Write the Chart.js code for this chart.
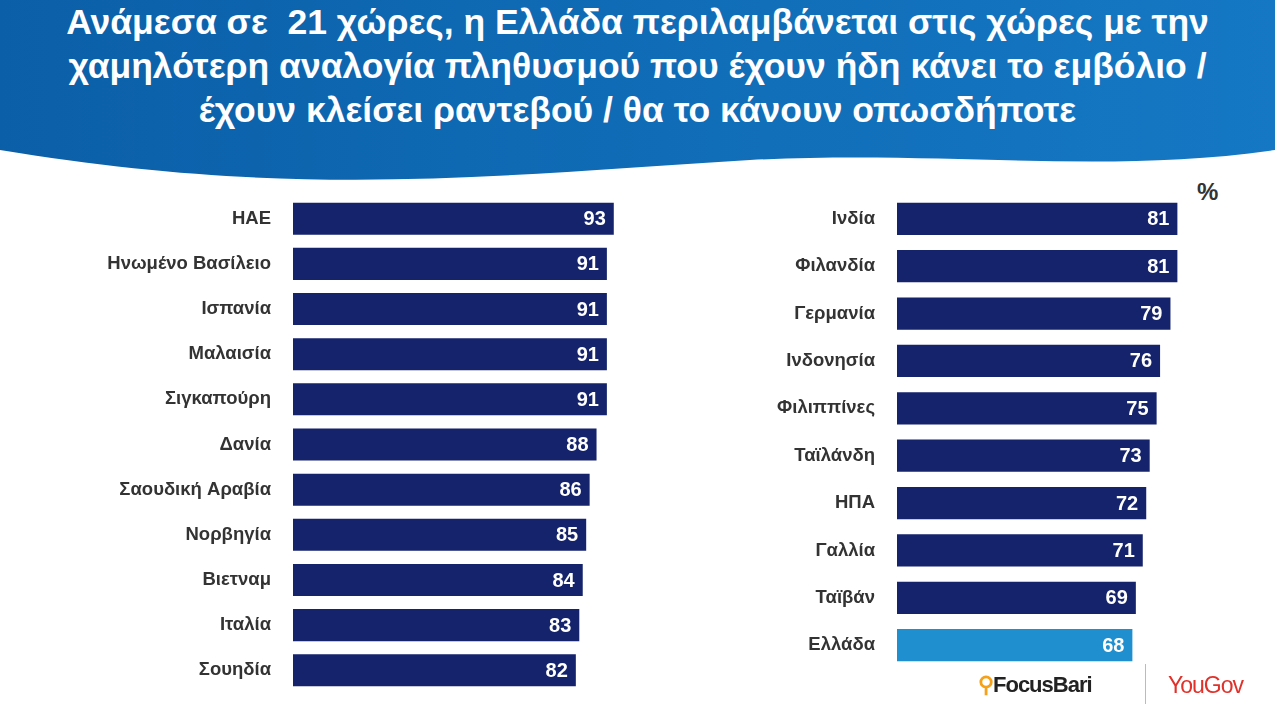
<!DOCTYPE html>
<html>
<head>
<meta charset="utf-8">
<script src="https://cdn.jsdelivr.net/npm/chart.js@4"></script>
<style>
  body { margin: 0; width: 1275px; height: 711px; position: relative; overflow: hidden; background: #fff; font-family: "Liberation Sans", Arial, sans-serif; }
  #head { position: absolute; left: 0; top: 0; width: 1275px; height: 200px; }
  #title { position: absolute; left: 0; top: 0; width: 1275px; text-align: center; color: #fff; font-weight: bold; font-size: 35.5px; line-height: 44px; }
  canvas { position: absolute; }
  #pct { position: absolute; left: 1197px; top: 178px; font-size: 24px; font-weight: bold; color: #333; }
  #focus { position: absolute; left: 978px; top: 672px; font-size: 22px; font-weight: bold; color: #222; letter-spacing: -1px; }
  #focus span { color: #f5a21a; }
  #sep { position: absolute; left: 1145px; top: 664px; width: 1px; height: 40px; background: #bbb; }
  #yougov { position: absolute; left: 1168px; top: 672px; font-size: 23px; color: #e0312a; letter-spacing: -1px; }
</style>
</head>
<body>
<svg id="head" width="1275" height="200">
  <defs>
    <linearGradient id="g" x1="0" y1="0" x2="1" y2="0">
      <stop offset="0" stop-color="#0b5fa8"/>
      <stop offset="1" stop-color="#1578c4"/>
    </linearGradient>
  </defs>
  <path d="M0 0 H1275 V150 C1100 175 950 150 750 160 C500 175 300 200 0 150 Z" fill="url(#g)"/>
</svg>
<div id="title">Ανάμεσα σε&nbsp; 21 χώρες, η Ελλάδα περιλαμβάνεται στις χώρες με την<br>χαμηλότερη αναλογία πληθυσμού που έχουν ήδη κάνει το εμβόλιο /<br>έχουν κλείσει ραντεβού / θα το κάνουν οπωσδήποτε</div>
<div id="pct">%</div>
<canvas id="left" style="left:0;top:171px" width="660" height="547"></canvas>
<canvas id="right" style="left:640px;top:170px" width="635" height="524"></canvas>
<div id="focus"><span>&#9906;</span>FocusBari</div>
<div id="sep"></div>
<div id="yougov">YouGov</div>
<script>
// Αριστερή στήλη
const leftCountries = ['ΗΑΕ', 'Ηνωμένο Βασίλειο', 'Ισπανία', 'Μαλαισία', 'Σιγκαπούρη', 'Δανία', 'Σαουδική Αραβία', 'Νορβηγία', 'Βιετναμ', 'Ιταλία', 'Σουηδία'];
const leftValues = [93, 91, 91, 91, 91, 88, 86, 85, 84, 83, 82];
// Δεξιά στήλη
const rightCountries = ['Ινδία', 'Φιλανδία', 'Γερμανία', 'Ινδονησία', 'Φιλιππίνες', 'Ταϊλάνδη', 'ΗΠΑ', 'Γαλλία', 'Ταϊβάν', 'Ελλάδα'];
const rightValues = [81, 81, 79, 76, 75, 73, 72, 71, 69, 68];

const NAVY = '#14236b';
const GREECE = '#1f8fd0';

const valueLabels = {
    id: 'valueLabels',
    afterDatasetsDraw(chart) {
        const ctx = chart.ctx;
        const meta = chart.getDatasetMeta(0);
        ctx.save();
        ctx.fillStyle = '#fff';
        ctx.font = 'bold 20px "Liberation Sans", Arial';
        ctx.textAlign = 'right';
        ctx.textBaseline = 'middle';
        meta.data.forEach((bar, i) => {
            ctx.fillText(chart.data.datasets[0].data[i], bar.x - 8, bar.y + 1);
        });
        ctx.restore();
    }
};

function makeChart(id, labels, values, axisWidth, xMax, barPct, padding, colors) {
    return new Chart(document.getElementById(id), {
        type: 'bar',
        data: {
            labels: labels,
            datasets: [{ data: values, backgroundColor: colors, barPercentage: barPct, categoryPercentage: 1 }]
        },
        options: {
            indexAxis: 'y',
            responsive: false,
            animation: false,
            layout: { padding: padding },
            plugins: { legend: { display: false }, tooltip: { enabled: false } },
            scales: {
                x: { display: false, min: 0, max: xMax },
                y: {
                    grid: { display: false },
                    border: { display: false },
                    afterFit: function(scale) { scale.width = axisWidth; },
                    ticks: { color: '#333', padding: 14, font: { family: '"Liberation Sans", Arial', size: 18.5, weight: 'bold' } }
                }
            }
        },
        plugins: [valueLabels]
    });
}

makeChart('left', leftCountries, leftValues, 293, 106.4, 0.71, { top: 10, bottom: 12, left: 0, right: 0 }, NAVY);
makeChart('right', rightCountries, rightValues, 257, 109.2, 0.68,
    { top: 10, bottom: 14, left: 0, right: 0 },
    rightCountries.map(c => c === 'Ελλάδα' ? GREECE : NAVY));
</script>
</body>
</html>
